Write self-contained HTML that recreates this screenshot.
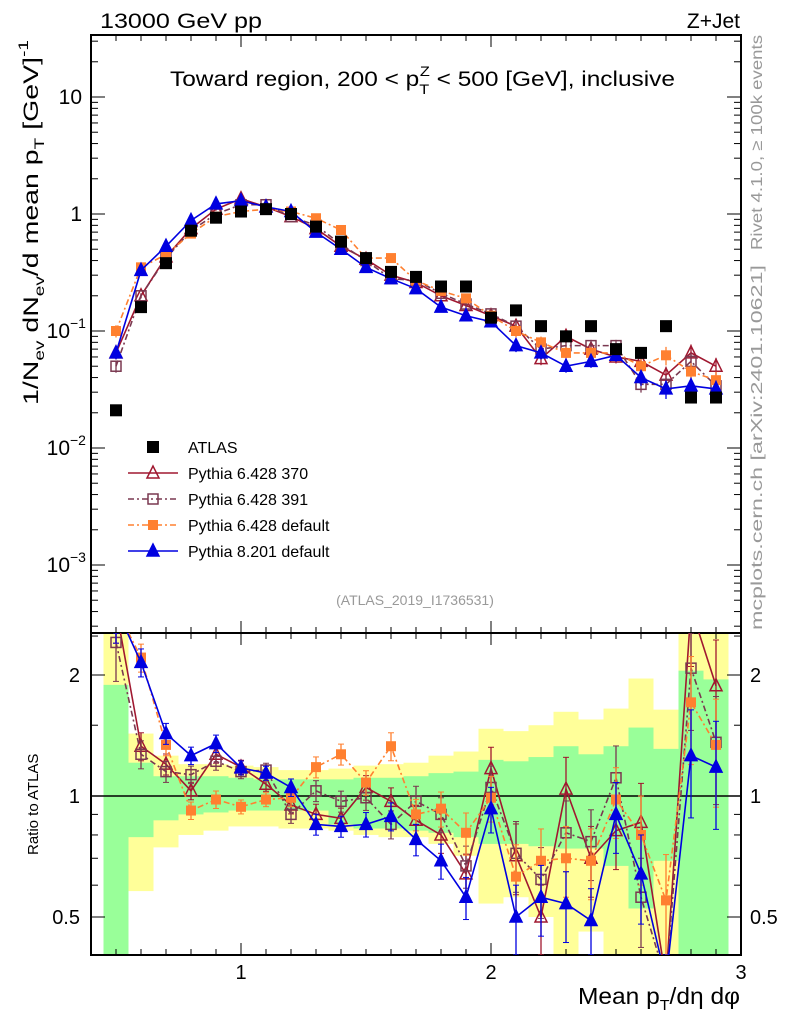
<!DOCTYPE html>
<html><head><meta charset="utf-8"><style>
html,body{margin:0;padding:0;background:#fff;width:786px;height:1024px;overflow:hidden;}
svg{display:block;font-family:"Liberation Sans",sans-serif;}
</style></head><body>
<svg id="chart" width="786" height="1024" viewBox="0 0 786 1024">
<text x="100" y="28" font-size="21" textLength="162" lengthAdjust="spacingAndGlyphs">13000 GeV pp</text>
<text x="740" y="28" font-size="21" text-anchor="end">Z+Jet</text>
<text x="170" y="86" font-size="21" textLength="505" lengthAdjust="spacingAndGlyphs">Toward region, 200 &lt; p<tspan font-size="14" dy="8">T</tspan><tspan font-size="14" dx="-8" dy="-18">Z</tspan><tspan dy="10"> &lt; 500 [GeV], inclusive</tspan></text>
<text transform="translate(762,250) rotate(-90)" font-size="16" fill="#999" textLength="215" lengthAdjust="spacingAndGlyphs">Rivet 4.1.0, ≥ 100k events</text>
<text transform="translate(762,630) rotate(-90)" font-size="16" fill="#999" textLength="365" lengthAdjust="spacingAndGlyphs">mcplots.cern.ch [arXiv:2401.10621]</text>
<text x="415" y="605" font-size="14" fill="#999" text-anchor="middle">(ATLAS_2019_I1736531)</text>
<text transform="translate(38,405) rotate(-90)" font-size="21" textLength="365" lengthAdjust="spacingAndGlyphs">1/N<tspan font-size="14" dy="6">ev</tspan><tspan dy="-6"> dN</tspan><tspan font-size="14" dy="6">ev</tspan><tspan dy="-6">/d mean p</tspan><tspan font-size="14" dy="6">T</tspan><tspan dy="-6"> [GeV]</tspan><tspan font-size="14" dy="-10">-1</tspan></text>
<text transform="translate(38,855) rotate(-90)" font-size="15">Ratio to ATLAS</text>
<text x="740" y="1004" font-size="23" text-anchor="end" textLength="162" lengthAdjust="spacingAndGlyphs">Mean p<tspan font-size="15" dy="6">T</tspan><tspan dy="-6">/dη dφ</tspan></text>
<g id="bands"></g><g id="axes"></g><g id="series"></g><g id="legend"></g>
</svg>
<script>
const centers=[0.5,0.6,0.7,0.8,0.9,1.0,1.1,1.2,1.3,1.4,1.5,1.6,1.7,1.8,1.9,2.0,2.1,2.2,2.3,2.4,2.5,2.6,2.7,2.8,2.9];
const atlas=[0.021,0.16,0.38,0.72,0.93,1.05,1.1,1.0,0.78,0.58,0.42,0.32,0.29,0.24,0.24,0.13,0.15,0.11,0.09,0.11,0.07,0.065,0.11,0.027,0.027];
const py370=[0.065,0.2,0.43,0.75,1.1,1.35,1.15,0.95,0.75,0.53,0.41,0.3,0.26,0.2,0.165,0.135,0.11,0.058,0.09,0.07,0.06,0.055,0.042,0.065,0.05];
const py391=[0.05,0.2,0.42,0.72,1.0,1.2,1.2,0.95,0.8,0.55,0.4,0.28,0.27,0.21,0.17,0.14,0.11,0.07,0.075,0.075,0.075,0.035,0.035,0.055,0.034];
const py6def=[0.1,0.35,0.45,0.68,0.95,1.05,1.1,1.05,0.92,0.73,0.42,0.42,0.27,0.22,0.19,0.135,0.1,0.08,0.065,0.065,0.065,0.05,0.062,0.045,0.038];
const py8def=[0.065,0.33,0.53,0.88,1.22,1.3,1.15,1.05,0.7,0.5,0.35,0.28,0.23,0.16,0.135,0.12,0.075,0.065,0.05,0.055,0.062,0.04,0.032,0.034,0.032];
const r370=[3,1.33,1.20,1.03,1.27,1.18,1.07,0.95,0.90,0.88,1.05,0.97,0.87,0.80,0.64,1.17,0.71,0.50,1.04,0.70,0.82,0.86,0.2,3,1.88];
const r391=[2.41,1.27,1.15,1.13,1.22,1.15,1.16,0.90,1.03,0.97,0.99,0.85,0.97,0.90,0.67,1.05,0.72,0.62,0.81,0.77,1.11,0.56,0.2,2.08,1.36];
const r6def=[3,2.21,1.34,0.92,0.98,0.94,0.98,0.99,1.18,1.27,1.08,1.33,0.90,0.93,0.81,0.99,0.63,0.69,0.70,0.69,0.98,0.80,0.55,1.71,1.34];
const r8def=[3,2.15,1.43,1.26,1.35,1.175,1.14,1.05,0.85,0.84,0.85,0.89,0.78,0.69,0.56,0.93,0.50,0.56,0.54,0.49,0.90,0.64,0.2,1.26,1.18];
const relErr=[0.2,0.08,0.06,0.05,0.05,0.04,0.04,0.05,0.06,0.06,0.07,0.08,0.09,0.1,0.12,0.13,0.2,0.2,0.2,0.2,0.2,0.25,0.3,0.3,0.3];
const gLo=[0.3,0.79,0.87,0.90,0.91,0.92,0.92,0.92,0.92,0.85,0.83,0.83,0.82,0.81,0.79,0.76,0.76,0.75,0.74,0.74,0.67,0.525,0.69,0.3,0.3];
const gHi=[1.89,1.21,1.12,1.12,1.12,1.11,1.10,1.10,1.10,1.10,1.11,1.11,1.12,1.14,1.15,1.23,1.22,1.25,1.33,1.27,1.33,1.48,1.31,2.05,1.95];
const yLo=[0.3,0.58,0.745,0.80,0.82,0.84,0.84,0.83,0.83,0.82,0.80,0.79,0.79,0.76,0.71,0.54,0.56,0.50,0.3,0.46,0.3,0.3,0.3,0.3,0.3];
const yHi=[3,1.43,1.26,1.20,1.20,1.19,1.18,1.16,1.16,1.17,1.19,1.20,1.21,1.26,1.29,1.47,1.45,1.50,1.62,1.55,1.65,1.96,1.64,3,3];

const NS="http://www.w3.org/2000/svg";
const L=91,R=741,T=35,MB=633,B=955;
const binW=0.1;
const X=v=>L+(v-0.4)/2.6*(R-L);
const Ym=v=>214-117*Math.log10(v);
const Yr=v=>{const y=796-121*Math.log2(v);return Math.max(MB,Math.min(B,y));};
const Yrl=v=>{const y=796-121*Math.log2(v);return Math.max(MB-25,Math.min(B+25,y));};
function mk(tag,attrs,parent){const e=document.createElementNS(NS,tag);for(const k in attrs)e.setAttribute(k,attrs[k]);parent.appendChild(e);return e;}
const gB=document.getElementById('bands'),gA=document.getElementById('axes'),gS=document.getElementById('series'),gL=document.getElementById('legend');

centers.forEach((c,i)=>{
  const x0=X(c-binW/2),x1=X(c+binW/2);
  let r=mk('rect',{x:x0,y:Yr(yHi[i]),width:x1-x0,height:Yr(yLo[i])-Yr(yHi[i]),fill:'#ffff99'},gB);
  
  
  let g=mk('rect',{x:x0,y:Yr(gHi[i]),width:x1-x0,height:Yr(gLo[i])-Yr(gHi[i]),fill:'#99ff99'},gB);
  
  
});
mk('line',{x1:L,x2:R,y1:Yr(1),y2:Yr(1),stroke:'#000','stroke-width':1.5},gA);

mk('rect',{x:L,y:T,width:R-L,height:MB-T,fill:'none',stroke:'#000','stroke-width':2},gA);
mk('rect',{x:L,y:MB,width:R-L,height:B-MB,fill:'none',stroke:'#000','stroke-width':2},gA);
for(let k=4;k<=30;k++){
  const v=k/10,x=X(v),maj=(k%10===0),len=maj?12:6;
  [[T,1],[MB,1],[MB,-1],[B,-1]].forEach(([y,d])=>mk('line',{x1:x,x2:x,y1:y,y2:y+d*len,stroke:'#000','stroke-width':1},gA));
  if(maj){const t=mk('text',{x:x,y:B+24,'font-size':20,'text-anchor':'middle'},gA);t.textContent=String(v);
    
    }
}
for(let e=-4;e<=1;e++){
  for(let m=1;m<10;m++){
    const v=m*Math.pow(10,e),y=Ym(v);if(y<T||y>MB)continue;
    const len=m===1?14:7;
    mk('line',{x1:L,x2:L+len,y1:y,y2:y,stroke:'#000'},gA);
    mk('line',{x1:R,x2:R-len,y1:y,y2:y,stroke:'#000'},gA);
  }
}
[[1,'10',null],[0,'1',null],[-1,'10','−1'],[-2,'10','−2'],[-3,'10','−3']].forEach(([e,b,s])=>{
  const t=mk('text',{x:s?70:82,y:Ym(Math.pow(10,e))+7,'font-size':21,'text-anchor':'end'},gA);t.textContent=b;
  
  
  if(s){const u=mk('text',{x:70,y:Ym(Math.pow(10,e))-3,'font-size':14},gA);u.textContent=s;}
});
[0.4,0.5,0.6,0.7,0.8,0.9,1,1.5,2,2.5].forEach(v=>{
  const y=Yr(v);const maj=(v===0.5||v===1||v===2);const len=maj?14:7;
  mk('line',{x1:L,x2:L+len,y1:y,y2:y,stroke:'#000'},gA);
  mk('line',{x1:R,x2:R-len,y1:y,y2:y,stroke:'#000'},gA);
  if(maj){
    const t=mk('text',{x:80,y:y+7,'font-size':20,'text-anchor':'end'},gA);t.textContent=String(v);
    
    
    const t2=mk('text',{x:750,y:y+7,'font-size':20},gA);t2.textContent=String(v);
    
    
  }
});

function marker(g,kind,color,x,y){
  const s=6;
  if(kind==='tri'||kind==='otri'){
    mk('polygon',{points:`${x},${y-s-1} ${x-s},${y+s-1} ${x+s},${y+s-1}`,fill:kind==='tri'?color:'none',stroke:color,'stroke-width':1.5},g);
  }else{
    mk('rect',{x:x-5,y:y-5,width:10,height:10,fill:kind==='sq'?color:'none',stroke:color,'stroke-width':kind==='sq'?0:1.5},g);
  }
}
const clipM=mk('clipPath',{id:'cm'},gS);mk('rect',{x:L,y:T,width:R-L,height:MB-T},clipM);
const clipR=mk('clipPath',{id:'cr'},gS);mk('rect',{x:L,y:MB,width:R-L,height:B-MB},clipR);
const gMain=mk('g',{'clip-path':'url(#cm)'},gS),gRat=mk('g',{'clip-path':'url(#cr)'},gS);

const series=[
 {name:'pythia-6428-370',vals:py370,rat:r370,color:'#a01830',kind:'otri',dash:'',label:'Pythia 6.428 370'},
 {name:'pythia-6428-391',vals:py391,rat:r391,color:'#7a3850',kind:'osq',dash:'6,3,2,3',label:'Pythia 6.428 391'},
 {name:'pythia-6428-default',vals:py6def,rat:r6def,color:'#ff8030',kind:'sq',dash:'6,3,2,3',label:'Pythia 6.428 default'},
 {name:'pythia-8201-default',vals:py8def,rat:r8def,color:'#0000e0',kind:'tri',dash:'',label:'Pythia 8.201 default'}
];
series.forEach(s=>{
  const g=mk('g',{},gMain);
  
  
  mk('polyline',{points:centers.map((c,i)=>X(c)+','+Ym(s.vals[i])).join(' '),fill:'none',stroke:s.color,'stroke-width':1.6,'stroke-dasharray':s.dash},g);
  centers.forEach((c,i)=>{
    const e=relErr[i]*0.6;
    mk('line',{x1:X(c),x2:X(c),y1:Ym(s.vals[i]*(1+e)),y2:Ym(s.vals[i]*(1-e)),stroke:s.color,'stroke-width':1.3},g);
    marker(g,s.kind,s.color,X(c),Ym(s.vals[i]));
  });
  const gr=mk('g',{},gRat);
  
  
  mk('polyline',{points:centers.map((c,i)=>X(c)+','+Yrl(s.rat[i])).join(' '),fill:'none',stroke:s.color,'stroke-width':1.6,'stroke-dasharray':s.dash},gr);
  centers.forEach((c,i)=>{
    const e=relErr[i];
    mk('line',{x1:X(c),x2:X(c),y1:Yr(s.rat[i]*(1+e)),y2:Yr(s.rat[i]*(1-e)),stroke:s.color,'stroke-width':1.3},gr);
    mk('line',{x1:X(c)-3,x2:X(c)+3,y1:Yr(s.rat[i]*(1+e)),y2:Yr(s.rat[i]*(1+e)),stroke:s.color},gr);
    mk('line',{x1:X(c)-3,x2:X(c)+3,y1:Yr(s.rat[i]*(1-e)),y2:Yr(s.rat[i]*(1-e)),stroke:s.color},gr);
    marker(gr,s.kind,s.color,X(c),Yrl(s.rat[i]));
  });
});
const gAt=mk('g',{},gMain);


centers.forEach((c,i)=>{
  const p=mk('rect',{x:X(c)-6,y:Ym(atlas[i])-6,width:12,height:12,fill:'#000'},gAt);
  
  
});

const legItems=[{label:'ATLAS',color:'#000',kind:'sq',dash:null,name:'atlas'}].concat(series);
legItems.forEach((s,j)=>{
  const y=447+26*j;
  const g=mk('g',{},gL);
  
  
  if(s.dash!==null) mk('line',{x1:128,x2:178,y1:y,y2:y,stroke:s.color,'stroke-width':1.6,'stroke-dasharray':s.dash},g);
  if(s.name==='atlas') mk('rect',{x:147,y:y-6,width:12,height:12,fill:'#000'},g);
  else marker(g,s.kind,s.color,153,y);
  const t=mk('text',{x:188,y:y+6,'font-size':16},g);t.textContent=s.label;
});
</script>
</body></html>
